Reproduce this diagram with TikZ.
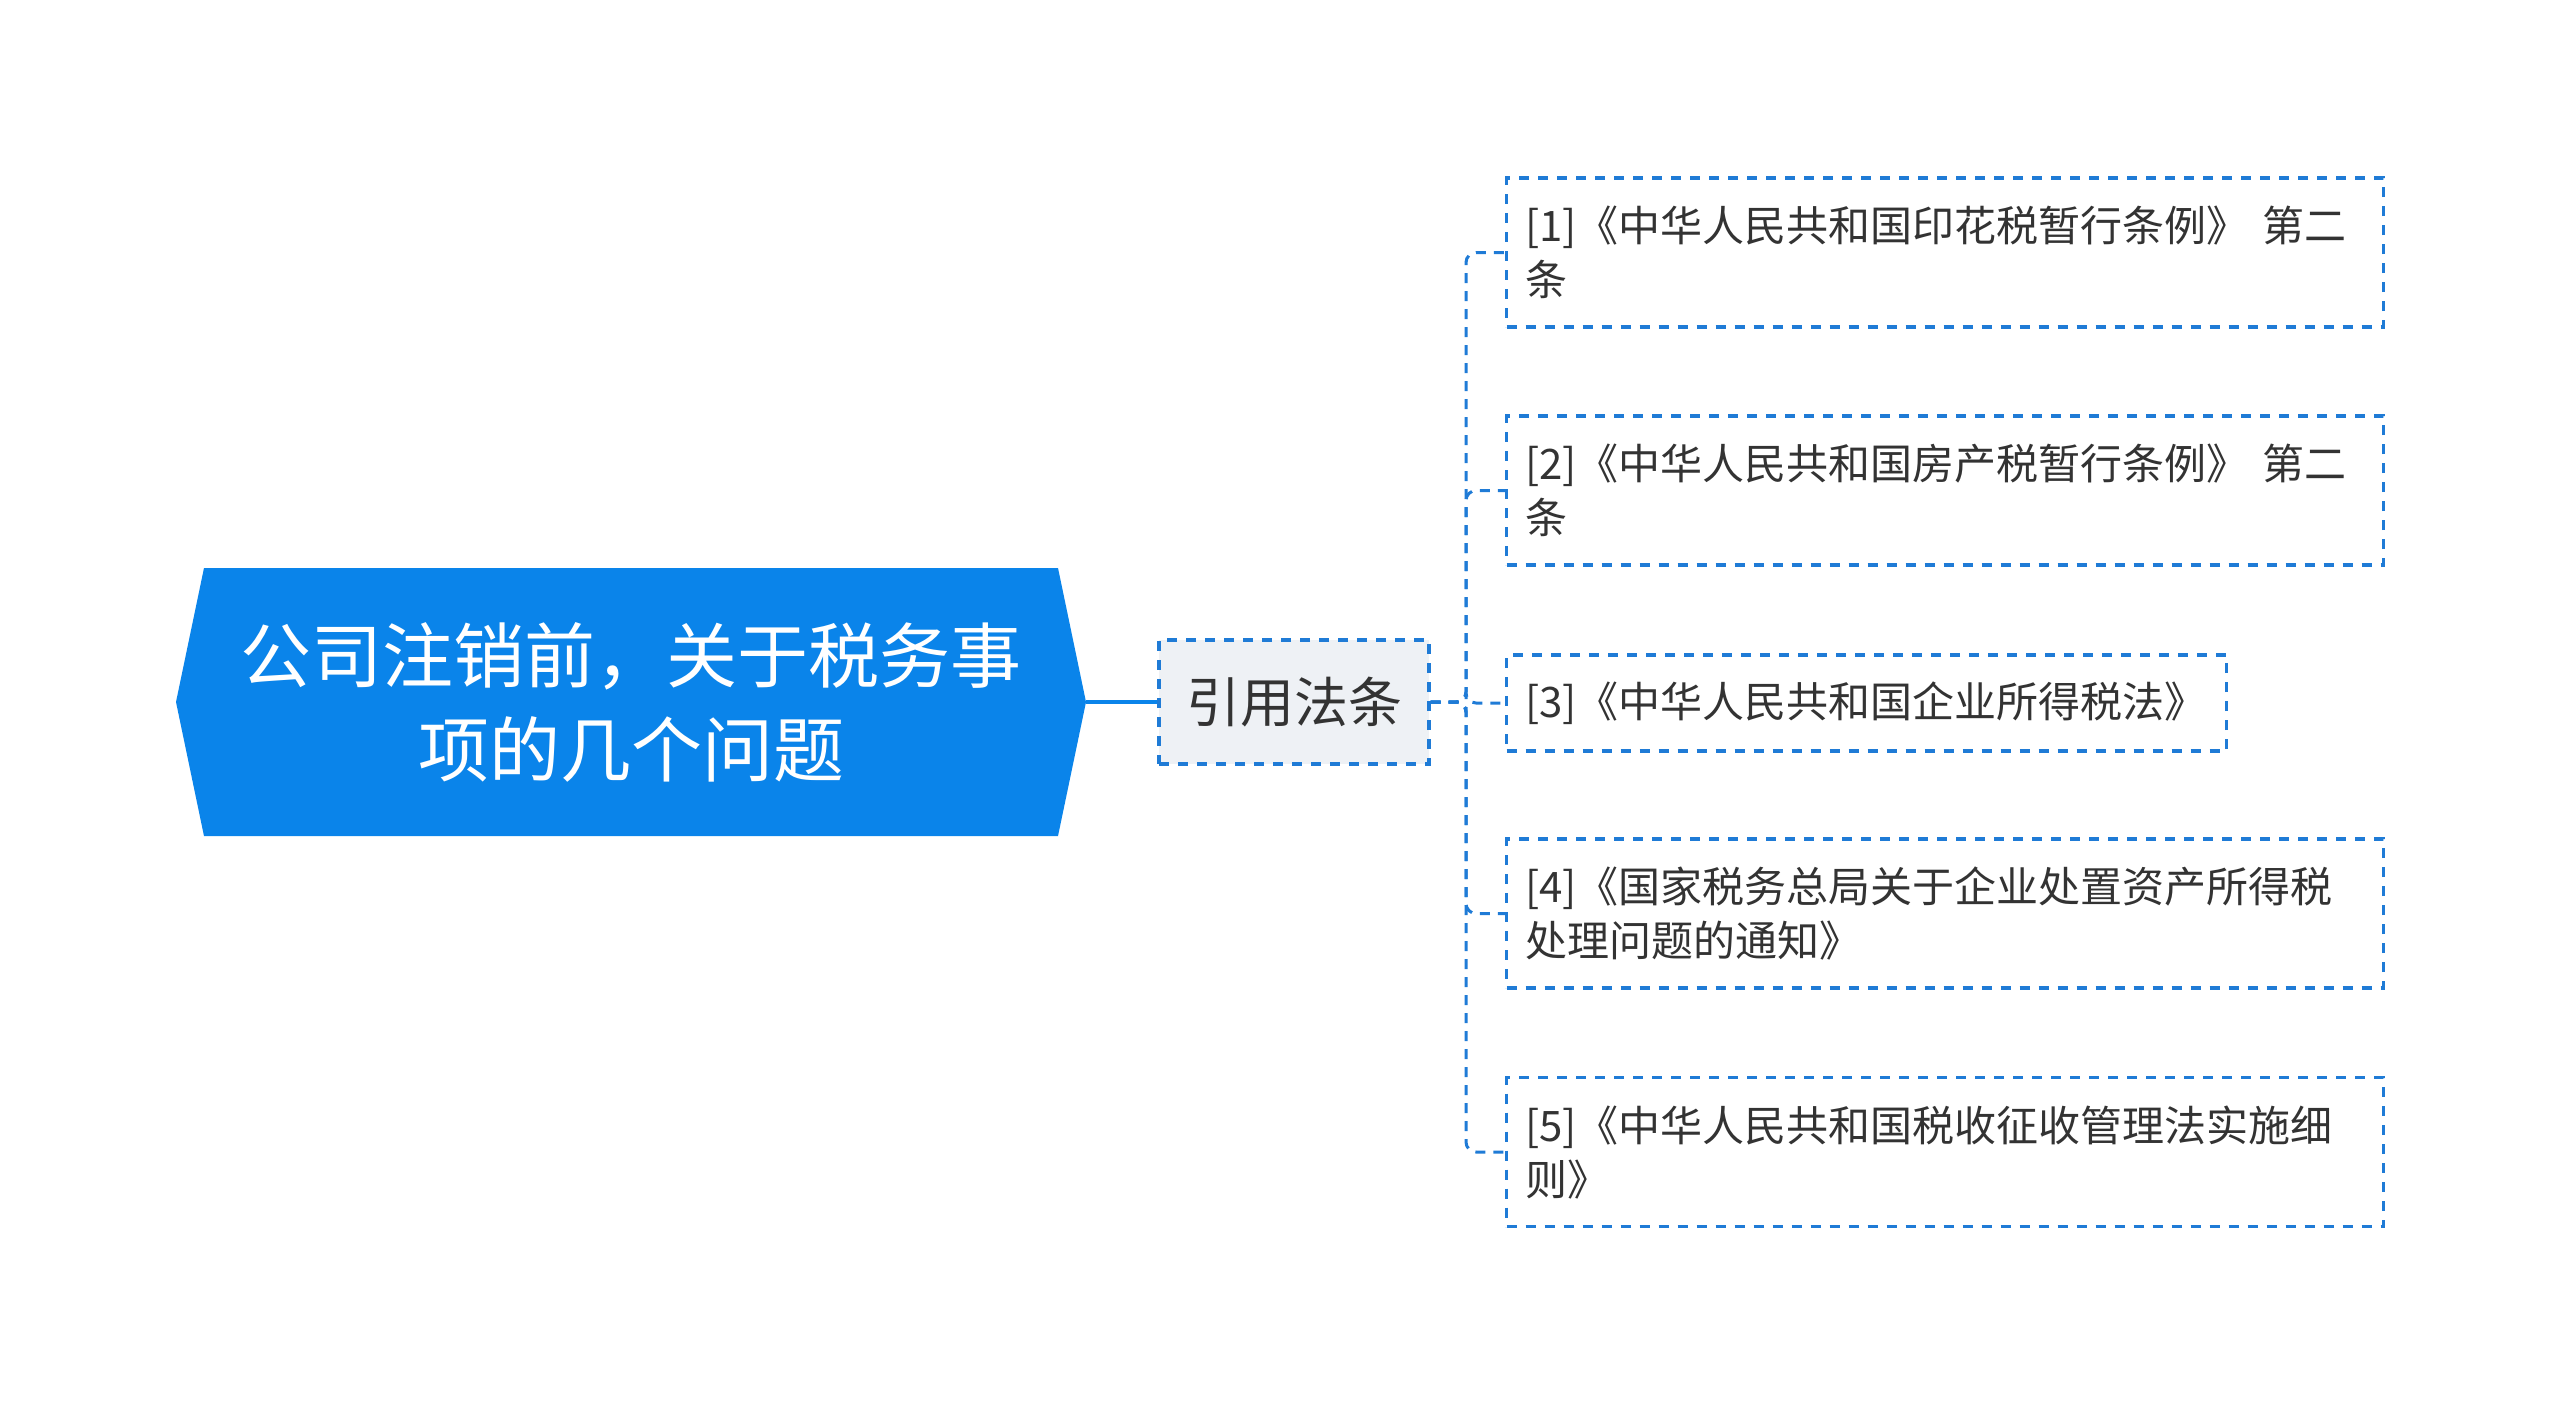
\documentclass[tikz,border=0pt]{standalone}
\usepackage{fontspec}
\setmainfont{Noto Sans CJK SC}
\usetikzlibrary{positioning}
\definecolor{rootblue}{HTML}{0A84EA}
\definecolor{linkblue}{HTML}{1F7BD6}
\definecolor{midgray}{HTML}{EEF1F5}
\definecolor{txtgray}{HTML}{333333}
\tikzset{
  link/.style={draw=linkblue, line width=1.5pt, dash pattern=on 5pt off 4pt, rounded corners=5pt},
  lawbox/.style={draw=linkblue, fill=white, line width=1.6pt, dash pattern=on 5pt off 4.5pt,
    anchor=west, align=left, text=txtgray, text width=420pt, inner xsep=9.25pt,
    minimum height=74.5pt, font=\fontsize{21}{27}\selectfont}
}
\begin{document}
\begin{tikzpicture}[x=0.5pt,y=-0.5pt,
  rootbox/.style={fill=white, minimum width=455pt, minimum height=134pt, align=center, text=white,
    font=\fontsize{35.5}{47}\selectfont,
    path picture={\fill[rootblue] (path picture bounding box.west)
      -- ([xshift=14pt]path picture bounding box.north west)
      -- ([xshift=-14pt]path picture bounding box.north east)
      -- (path picture bounding box.east)
      -- ([xshift=-14pt]path picture bounding box.south east)
      -- ([xshift=14pt]path picture bounding box.south west) -- cycle;}},
  midbox/.style={draw=linkblue, fill=midgray, line width=1.6pt, dash pattern=on 5pt off 4.5pt,
    minimum width=135pt, minimum height=62pt, text=txtgray, font=\fontsize{27}{32}\selectfont}]
\useasboundingbox (0,0) rectangle (2560,1405);

\node[rootbox] (root) at (631,702) {公司注销前，关于税务事\\项的几个问题};
\node[midbox] (mid) at (1294,702) {引用法条};

\node[lawbox] (c1) at (1505,252.5) {[1]《中华人民共和国印花税暂行条例》 第二\\条};
\node[lawbox] (c2) at (1505,490.5) {[2]《中华人民共和国房产税暂行条例》 第二\\条};
\node[lawbox, text width=341.5pt, minimum height=48pt] (c3) at (1505,703) {[3]《中华人民共和国企业所得税法》};
\node[lawbox] (c4) at (1505,913.5) {[4]《国家税务总局关于企业处置资产所得税\\处理问题的通知》};
\node[lawbox] (c5) at (1505,1152) {[5]《中华人民共和国税收征收管理法实施细\\则》};

\draw[rootblue, line width=2pt] (root.east) -- (mid.west);
\coordinate (bus) at (1466,702);
\foreach \i in {1,...,5}
  \draw[link] (mid.east) -- (bus) |- (c\i.west);
\end{tikzpicture}
\end{document}
